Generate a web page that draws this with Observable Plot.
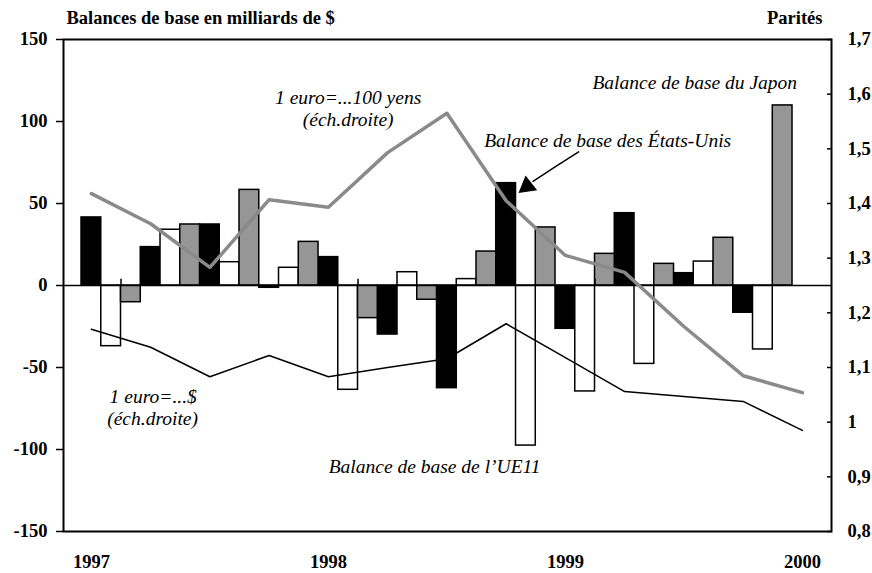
<!DOCTYPE html>
<html>
<head>
<meta charset="utf-8">
<script src="https://cdn.jsdelivr.net/npm/d3@7"></script>
<script src="https://cdn.jsdelivr.net/npm/@observablehq/plot@0.6"></script>
<style>
  html, body { margin: 0; padding: 0; background: #fff; }
  #chart svg { display: block; }
</style>
</head>
<body>
<div id="chart"></div>
<script>
// Quarters 1997T1 .. 1999T4 (bars), lines run to 2000T1
const quarters = ["1997T1","1997T2","1997T3","1997T4","1998T1","1998T2","1998T3","1998T4","1999T1","1999T2","1999T3","1999T4"];
const lineQuarters = [...quarters, "2000T1"];
const yearLabels = ["1997", "1998", "1999", "2000"];

// Balances de base, milliards de $
const usBalance    = [41.5, 23.4, 37.2, -1.4, 17.3, -29.9, -62.6, 62.4, -26.4, 44.1, 7.5, -16.6];
const ue11Balance  = [-37, 34, 14.2, 10.8, -63.6, 8.1, 3.9, -97.6, -64.6, -47.8, 14.6, -39];
const japanBalance = [-10.2, 37.2, 58.3, 26.6, -19.9, -8.7, 20.7, 35.4, 19.3, 13.2, 29.1, 109.8];

// Parités (échelle droite)
const euroYen100 = [1.418, 1.363, 1.283, 1.407, 1.393, 1.493, 1.565, 1.405, 1.305, 1.274, 1.175, 1.085, 1.054];
const euroDollar = [1.170, 1.137, 1.083, 1.122, 1.083, 1.100, 1.116, 1.180, 1.118, 1.056, 1.047, 1.038, 0.985];

const leftTicks = [-150, -100, -50, 0, 50, 100, 150];
const rightTicks = [0.8, 0.9, 1.0, 1.1, 1.2, 1.3, 1.4, 1.5, 1.6, 1.7];
const rightLabels = ["0,8", "0,9", "1", "1,1", "1,2", "1,3", "1,4", "1,5", "1,6", "1,7"];

// right scale -> left scale: 0.8..1.7 maps to -150..150
const toLeft = v => (v - 1.25) / 0.003;

const barSeries = [
  {values: usBalance, k: 0, fill: "#000000"},
  {values: ue11Balance, k: 1, fill: "#ffffff"},
  {values: japanBalance, k: 2, fill: "#969696"}
];
const bars = barSeries.flatMap(s => s.values.map((v, i) => ({
  x1: i + s.k / 3, x2: i + (s.k + 1) / 3, v, fill: s.fill
})));

const yenLine = euroYen100.map((v, i) => ({t: i + 1 / 6, y: toLeft(v)}));
const usdLine = euroDollar.map((v, i) => ({t: i + 1 / 6, y: toLeft(v)}));
const yearPos = yearLabels.map((d, i) => i * 4 + 1 / 6);

const annotations = [
  {t: 4.50, y: 114.6, text: "1 euro=...100 yens"},
  {t: 4.50, y: 101.0, text: "(éch.droite)"},
  {t: 10.35, y: 123.8, text: "Balance de base du Japon"},
  {t: 8.88, y: 88.4, text: "Balance de base des États-Unis"},
  {t: 1.21, y: -67.6, text: "1 euro=...$"},
  {t: 1.20, y: -81.5, text: "(éch.droite)"},
  {t: 5.96, y: -110.4, text: "Balance de base de l’UE11"}
];
const arrowPath = [
  {t: 8.39, y: 81.5},
  {t: 7.98, y: 72.0},
  {t: 7.62, y: 63.5}
];
const arrowHead = [{t: 7.52, y: 60.5}];

const chart = Plot.plot({
  width: 872,
  height: 573,
  marginLeft: 63,
  marginRight: 41,
  marginTop: 39,
  marginBottom: 42,
  style: {fontFamily: "'Liberation Serif', 'DejaVu Serif', serif", fontSize: "18.5px", color: "#000", background: "#fff"},
  x: {domain: [-0.304, 12.658]},
  y: {domain: [-150, 150]},
  marks: [
    Plot.rectY(bars, {x1: "x1", x2: "x2", y1: 0, y2: "v", fill: "fill", stroke: "#000", strokeWidth: 1.5}),
    Plot.ruleY([0], {stroke: "#000", strokeWidth: 1.5}),
    Plot.ruleX([0, 4, 8].map(t => t + 2 / 3), {y1: 0, y2: 3.8, stroke: "#000", strokeWidth: 1.5}),
    Plot.line(yenLine, {x: "t", y: "y", stroke: "#8a8a8a", strokeWidth: 3.5}),
    Plot.line(usdLine, {x: "t", y: "y", stroke: "#000", strokeWidth: 1.5}),
    Plot.frame({stroke: "#000", strokeWidth: 2}),
    Plot.axisY(leftTicks, {anchor: "left", tickSize: 7, tickPadding: 9, strokeWidth: 1.5, fontWeight: "bold", tickFormat: d => String(d)}),
    Plot.axisY(rightTicks.map(toLeft), {anchor: "right", tickSize: -5, tickPadding: 21, strokeWidth: 1.5, fontWeight: "bold",
      tickFormat: d => rightLabels[Math.round((d + 150) / (300 / 9))]}),
    Plot.axisX(yearPos, {anchor: "bottom", tickSize: 0, tickPadding: 23, fontWeight: "bold",
      tickFormat: d => yearLabels[Math.round((d - 1 / 6) / 4)]}),
    Plot.text(["Balances de base en milliards de $"], {frameAnchor: "top-left", textAnchor: "start", lineAnchor: "bottom", dx: 3, dy: -16, fontWeight: "bold"}),
    Plot.text(["Parités"], {frameAnchor: "top-right", textAnchor: "end", lineAnchor: "bottom", dx: -9, dy: -16, fontWeight: "bold"}),
    Plot.text(annotations, {x: "t", y: "y", text: "text", fontStyle: "italic", fontSize: 19.5, textAnchor: "middle", lineAnchor: "middle"}),
    Plot.line(arrowPath, {x: "t", y: "y", curve: "natural", stroke: "#000", strokeWidth: 1.5}),
    Plot.dot(arrowHead, {x: "t", y: "y", symbol: "triangle", r: 7, fill: "#000", stroke: "none", rotate: 232})
  ]
});
document.getElementById("chart").append(chart);
</script>
</body>
</html>
